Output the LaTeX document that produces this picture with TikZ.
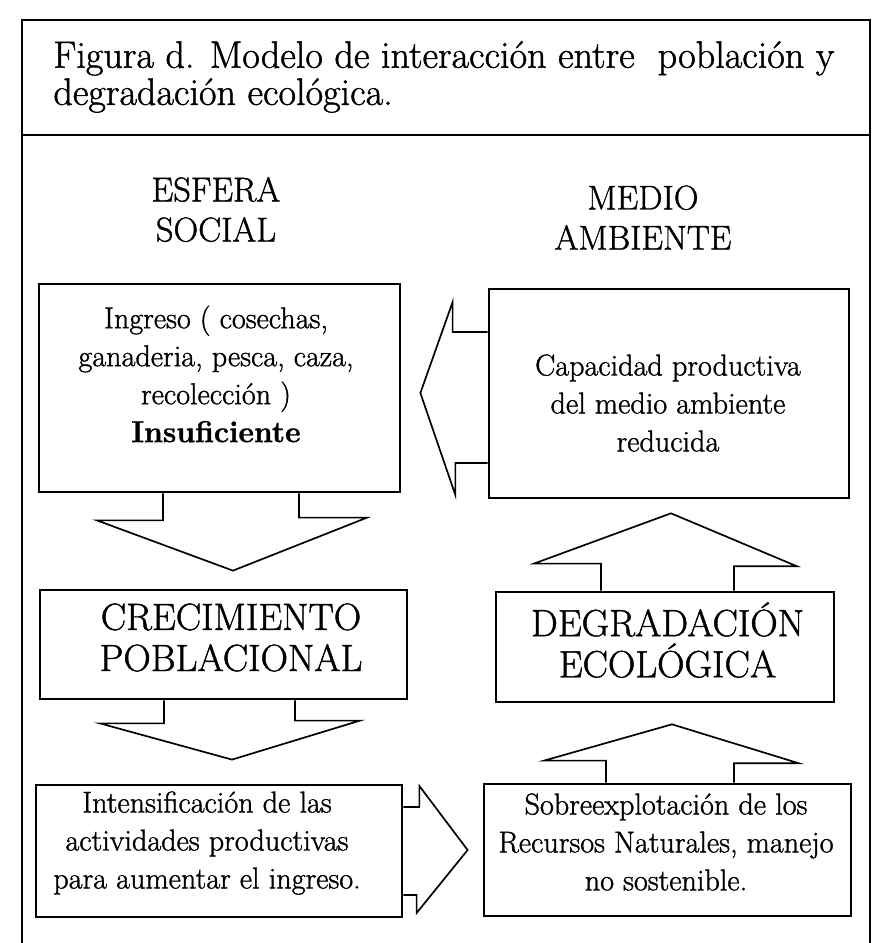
\documentclass[tikz,border=0pt]{standalone}
\usepackage{fontspec}
\setmainfont{Latin Modern Roman}[FakeBold=1.2]
\usepackage{tikz}
\usetikzlibrary{calc,positioning}
\tikzstyle{caja} = [draw=black, line width=1.3pt, rectangle, inner sep=0pt]
\tikzstyle{texto} = [align=center, inner sep=0pt, font=\fontsize{14.3}{18}\selectfont]
\tikzstyle{titular} = [align=center, inner sep=0pt, font=\fontsize{18}{19.5}\selectfont]
\tikzstyle{flecha} = [draw=black, line width=0.8pt, line join=miter]

\begin{document}
\begin{tikzpicture}
		\useasboundingbox (0,0) rectangle (14.567,-15.717);
		\coordinate (ingreso) at (3.658,-6.467);
		\coordinate (capacidad) at (11.15,-6.558);
		\coordinate (crecimiento) at (3.725,-10.742);
		\coordinate (degradacion) at (11.083,-10.783);
		\coordinate (intensif) at (3.65,-14.183);
		\coordinate (sobreexpl) at (11.125,-14.167);
		% Frame and title
		\draw[line width=1.1pt] (0.367,-15.717) -- (0.367,-0.333) -- (14.5,-0.333) -- (14.5,-15.717);
		\draw[line width=1.1pt] (0.367,-2.25) -- (14.5,-2.25);
		\node[name=titulo, anchor=north west, inner sep=0pt, align=left, font=\fontsize{18.1}{17.6}\selectfont] at (0.883,-0.68) {Figura d. Modelo de interacción entre\ \ población y\\degradación ecológica.};
		% Column headings
		\begin{scope}[every node/.style={align=center, inner sep=0pt, font=\fontsize{16.3}{19}\selectfont}]
		\node[name=esfera] at (3.6,-3.492) {ESFERA\\SOCIAL};
		\node[name=medio] at (10.717,-3.625) {MEDIO\\AMBIENTE};
		\end{scope}
		% Boxes
		\begin{scope}[every node/.style={caja}]
		\node[name=ingreso, minimum width=6.017cm, minimum height=3.467cm] at (ingreso) {};
		\node[name=capacidad, minimum width=6cm, minimum height=3.483cm] at (capacidad) {};
		\node[name=crecimiento, minimum width=6.117cm, minimum height=1.817cm] at (crecimiento) {};
		\node[name=degradacion, minimum width=5.633cm, minimum height=1.833cm] at (degradacion) {};
		\node[name=intensif, minimum width=6.1cm, minimum height=2.2cm] at (intensif) {};
		\node[name=sobreexpl, minimum width=6.117cm, minimum height=2.2cm] at (sobreexpl) {};
		\end{scope}
		% Box texts
		\begin{scope}[every node/.style={texto}]
		\node[name=ingresotxt] at (3.6,-6.233) {Ingreso ( cosechas,\\ganaderia, pesca, caza,\\recolección )\\\textbf{Insuficiente}};
		\node[name=capacidadtxt] at (11.133,-6.717) {Capacidad productiva\\del medio ambiente\\reducida};
		\node[name=intensiftxt] at (3.45,-14.05) {Intensificación de las\\actividades productivas\\para aumentar el ingreso.};
		\node[name=sobreexpltxt] at (11.1,-14.033) {Sobreexplotación de los\\Recursos Naturales, manejo\\no sostenible.};
		\end{scope}
		\begin{scope}[every node/.style={titular}]
		\node[name=crecimientotxt] at (3.85,-10.625) {CRECIMIENTO\\POBLACIONAL};
		\node[name=degradaciontxt] at (11.125,-10.667) {DEGRADACIÓN\\ECOLÓGICA};
		\end{scope}
		% Block arrows
		\draw[flecha] ($(capacidad.west)+(0,1.025)$) -- ++(-0.583,0) -- ++(0,0.5) -- ($(ingreso.east)+(0.317,-0.083)$) -- ++(0.583,-1.7) -- ++(0,0.533) -- ($(capacidad.west)+(0,-1.158)$);
		\draw[flecha] ($(ingreso.south)+(-0.942,0)$) -- ++(0,-0.45) -- ++(-1.1,0) -- ($(crecimiento.north)+(0.158,0.3)$) -- ++(2.233,0.883) -- ++(-1.133,0) -- ($(ingreso.south)+(1.325,0)$);
		\draw[flecha] ($(crecimiento.south)+(-0.992,0)$) -- ++(0,-0.383) -- ++(-1.067,0) -- ($(intensif.north)+(0.217,0.4)$) -- ++(2.133,0.65) -- ++(-1.083,0) -- ($(crecimiento.south)+(1.192,0)$);
		\draw[flecha] ($(intensif.east)+(0,0.733)$) -- ++(0.267,0) -- ++(0,0.35) -- ($(sobreexpl.west)+(-0.25,0)$) -- ++(-0.85,-1.05) -- ++(0,0.3) -- ($(intensif.east)+(0,-0.733)$);
		\draw[flecha] ($(sobreexpl.north)+(-1.025,0)$) -- ++(0,0.367) -- ++(-1.033,0) -- ($(degradacion.south)+(0.117,-0.35)$) -- ++(2.117,-0.65) -- ++(-1.083,0) -- ($(sobreexpl.north)+(1.108,0)$);
		\draw[flecha] ($(degradacion.north)+(-1.067,0)$) -- ++(0,0.45) -- ++(-1.117,0) -- ($(capacidad.south)+(0.033,-0.233)$) -- ++(2.1,-0.883) -- ++(-1.05,0) -- ($(degradacion.north)+(1.15,0)$);
\end{tikzpicture}
\end{document}
